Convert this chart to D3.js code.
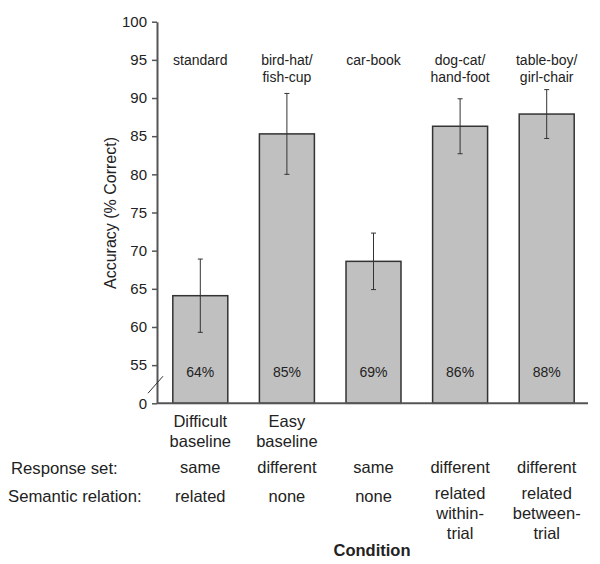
<!DOCTYPE html>
<html>
<head>
<meta charset="utf-8">
<script src="https://cdn.jsdelivr.net/npm/d3@7"></script>
<style>
  body { margin: 0; background: #fff; }
  svg text { font-family: "Liberation Sans", Arial, sans-serif; fill: #222; }
</style>
</head>
<body>
<div id="chart"></div>
<script>
// chart data
const categories = ["difficult", "easy", "carbook", "dogcat", "tableboy"];
const categoryLines = [["Difficult", "baseline"], ["Easy", "baseline"], [], [], []];
const stimulusLines = [["standard"], ["bird-hat/", "fish-cup"], ["car-book"], ["dog-cat/", "hand-foot"], ["table-boy/", "girl-chair"]];
const accuracy = [64.1, 85.3, 68.6, 86.3, 87.9];
const errorHalf = [4.8, 5.3, 3.7, 3.6, 3.2];
const percentLabels = ["64%", "85%", "69%", "86%", "88%"];
const responseSet = ["same", "different", "same", "different", "different"];
const semanticRelation = [["related"], ["none"], ["none"], ["related", "within-", "trial"], ["related", "between-", "trial"]];
const yTicks = [50, 55, 60, 65, 70, 75, 80, 85, 90, 95, 100];
const yTickLabels = ["0", "55", "60", "65", "70", "75", "80", "85", "90", "95", "100"];
const rowLabels = ["Response set:", "Semantic relation:"];

const W = 600, H = 564;
const svg = d3.select("#chart").append("svg")
  .attr("width", W)
  .attr("height", H);

// scales -- the axis is broken, so the "0" tick sits where 50 would be
const x = d3.scaleBand().domain(categories).range([157, 590])
  .paddingInner(0.365).paddingOuter(0.1825);
const y = d3.scaleLinear().domain([50, 100]).range([403.3, 21.7]);

const axisColor = "#555";

// y axis
const yAxis = svg.append("g")
  .attr("transform", "translate(157,0)")
  .call(d3.axisLeft(y).tickValues(yTicks).tickSize(5).tickSizeOuter(0)
    .tickPadding(5)
    .tickFormat((d, i) => yTickLabels[i]));
yAxis.select(".domain").attr("stroke", axisColor).attr("stroke-width", 2);
yAxis.selectAll(".tick line").attr("stroke", axisColor).attr("stroke-width", 1.5);
yAxis.selectAll(".tick text")
  .style("font-family", "'Liberation Sans', Arial, sans-serif")
  .style("font-size", "15px").attr("fill", "#222");

// axis break mark
const breakY = (y(50) + y(55)) / 2;
svg.append("line")
  .attr("x1", 148).attr("y1", breakY + 9)
  .attr("x2", 163).attr("y2", breakY - 8)
  .attr("stroke", "#333").attr("stroke-width", 1);

// bars
const bars = svg.append("g");
bars.selectAll("rect")
  .data(categories)
  .enter().append("rect")
    .attr("x", d => x(d))
    .attr("y", (d, i) => y(accuracy[i]))
    .attr("width", x.bandwidth())
    .attr("height", (d, i) => y(50) - y(accuracy[i]))
    .attr("fill", "#c0c0c0")
    .attr("stroke", "#333")
    .attr("stroke-width", 1.5);

// error bars
const err = svg.append("g").attr("stroke", "#333").attr("stroke-width", 1);
categories.forEach((c, i) => {
  const cx = x(c) + x.bandwidth() / 2;
  const hi = y(accuracy[i] + errorHalf[i]);
  const lo = y(accuracy[i] - errorHalf[i]);
  err.append("line").attr("x1", cx).attr("x2", cx).attr("y1", hi).attr("y2", lo);
  err.append("line").attr("x1", cx - 2.5).attr("x2", cx + 2.5).attr("y1", hi).attr("y2", hi);
  err.append("line").attr("x1", cx - 2.5).attr("x2", cx + 2.5).attr("y1", lo).attr("y2", lo);
});

// x axis line
svg.append("line")
  .attr("x1", x.range()[0]).attr("x2", 588)
  .attr("y1", y(50)).attr("y2", y(50))
  .attr("stroke", axisColor).attr("stroke-width", 2);

// percent labels inside bars
svg.append("g").selectAll("text")
  .data(categories)
  .enter().append("text")
    .attr("x", d => x(d) + x.bandwidth() / 2)
    .attr("y", 371.7)
    .attr("dy", "0.35em")
    .attr("text-anchor", "middle")
    .style("font-size", "14px")
    .text((d, i) => percentLabels[i]);

// multi-line helper
function lines(g, arr, cx, top, step, size, weight) {
  arr.forEach((t, j) => {
    g.append("text")
      .attr("x", cx).attr("y", top + j * step)
      .attr("dy", "0.35em")
      .attr("text-anchor", "middle")
      .style("font-size", size)
      .style("font-weight", weight || "normal")
      .text(t);
  });
}

const labels = svg.append("g");
categories.forEach((c, i) => {
  const cx = x(c) + x.bandwidth() / 2;
  lines(labels, stimulusLines[i], cx, 60, 17, "14px");
  lines(labels, categoryLines[i], cx, 421, 20, "16.5px");
  lines(labels, [responseSet[i]], cx, 467.7, 20, "16.5px");
  const sem = semanticRelation[i];
  lines(labels, sem, cx, sem.length > 1 ? 493 : 496, 20.3, "16.5px");
});

// row labels
labels.append("text").attr("x", 11).attr("y", 467.7).attr("dy", "0.35em")
  .style("font-size", "16.7px").text(rowLabels[0]);
labels.append("text").attr("x", 8).attr("y", 496).attr("dy", "0.35em")
  .style("font-size", "16.7px").text(rowLabels[1]);

// axis titles
svg.append("text")
  .attr("transform", "translate(110," + ((y(50) + y(100)) / 2 + 0.5) + ") rotate(-90)")
  .attr("dy", "0.35em")
  .attr("text-anchor", "middle")
  .style("font-size", "16px")
  .text("Accuracy (% Correct)");

svg.append("text")
  .attr("x", 372).attr("y", 550.7).attr("dy", "0.35em")
  .attr("text-anchor", "middle")
  .style("font-size", "16.5px").style("font-weight", "bold")
  .text("Condition");
</script>
</body>
</html>
